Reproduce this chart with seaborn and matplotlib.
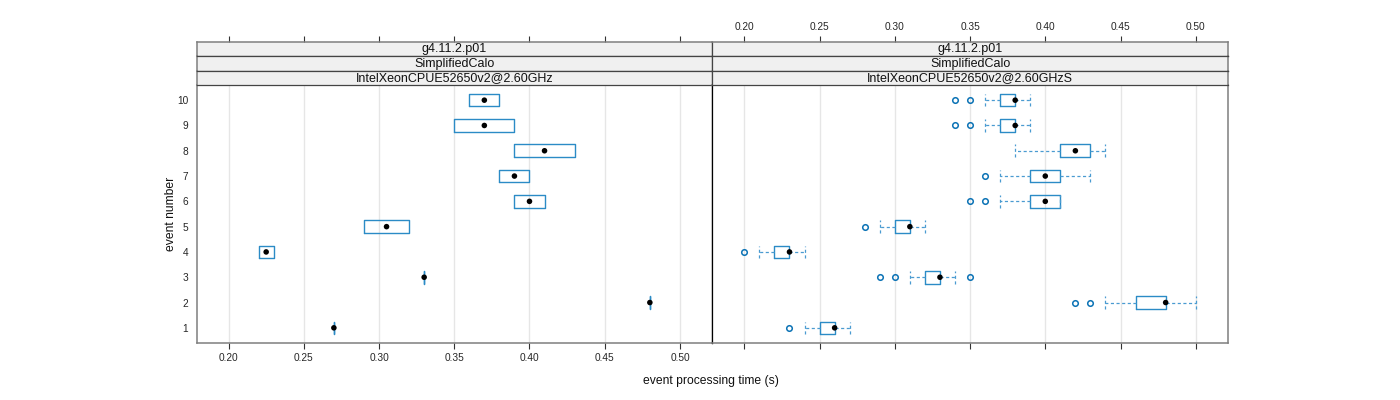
import numpy as np
import matplotlib.pyplot as plt
import seaborn as sns
import pandas as pd

# Data
events = list(range(1, 11))
strip_version = "g4.11.2.p01"
strip_app = "SimplifiedCalo"
panel_cpu = ["IntelXeonCPUE52650v2@2.60GHz", "IntelXeonCPUE52650v2@2.60GHzS"]
x_ticks = [0.20, 0.25, 0.30, 0.35, 0.40, 0.45, 0.50]

# left panel: two runs per event -> box spans both, median in between
left_q1 = [0.27, 0.48, 0.33, 0.22, 0.29, 0.39, 0.38, 0.39, 0.35, 0.36]
left_med = [0.27, 0.48, 0.33, 0.225, 0.305, 0.40, 0.39, 0.41, 0.37, 0.37]
left_q3 = [0.27, 0.48, 0.33, 0.23, 0.32, 0.41, 0.40, 0.43, 0.39, 0.38]

# right panel: full box-and-whisker stats
right_whislo = [0.24, 0.44, 0.31, 0.21, 0.29, 0.37, 0.37, 0.38, 0.36, 0.36]
right_q1 = [0.25, 0.46, 0.32, 0.22, 0.30, 0.39, 0.39, 0.41, 0.37, 0.37]
right_med = [0.26, 0.48, 0.33, 0.23, 0.31, 0.40, 0.40, 0.42, 0.38, 0.38]
right_q3 = [0.26, 0.48, 0.33, 0.23, 0.31, 0.41, 0.41, 0.43, 0.38, 0.38]
right_whishi = [0.27, 0.50, 0.34, 0.24, 0.32, 0.41, 0.43, 0.44, 0.39, 0.39]
right_fliers = [[0.23], [0.42, 0.43], [0.29, 0.30, 0.35], [0.20], [0.28],
                [0.35, 0.36], [0.36], [], [0.34, 0.35], [0.34, 0.35]]

BOX_COL = "#2b8bc6"
WHISK_COL = "#4a9bd1"
OUT_COL = "#0b72b5"
FRAME_COL = "#7f7f7f"
STRIP_BG = "#f0f0f0"

sns.set_theme(style="white")
plt.rcParams['font.family'] = ['Liberation Sans', 'DejaVu Sans']

fig = plt.figure(figsize=(14, 4), dpi=100)

W, H = 1400.0, 400.0
panel_x = [196.5, 712.3]
panel_w = 515.5
panel_top, panel_bot = 85.0, 343.0
strip_h = (panel_top - 42.0) / 3
xlim = (0.1787, 0.5213)


def fx(px):
    return px / W


def fy(py):
    return 1 - py / H


for i in range(2):
    ax = fig.add_axes([fx(panel_x[i]), fy(panel_bot), panel_w / W, (panel_bot - panel_top) / H])

    if i == 0:
        stats = [dict(med=m, q1=a, q3=b, whislo=a, whishi=b, fliers=[])
                 for a, m, b in zip(left_q1, left_med, left_q3)]
        medians = left_med
        showcaps = False
    else:
        stats = [dict(med=m, q1=a, q3=b, whislo=lo, whishi=hi, fliers=f)
                 for lo, a, m, b, hi, f in zip(right_whislo, right_q1, right_med,
                                               right_q3, right_whishi, right_fliers)]
        medians = right_med
        showcaps = True

    ax.bxp(stats, positions=events, widths=0.5, orientation='horizontal',
           showcaps=showcaps, capwidths=0.5, manage_ticks=False,
           boxprops=dict(color=BOX_COL, linewidth=1.0),
           whiskerprops=dict(color=WHISK_COL, linewidth=0.9, linestyle=(0, (2.5, 2))),
           capprops=dict(color=WHISK_COL, linewidth=0.9, linestyle=(0, (2.5, 2))),
           medianprops=dict(linewidth=0),
           flierprops=dict(marker='o', markerfacecolor='none', markeredgecolor=OUT_COL,
                           markersize=4, markeredgewidth=1.1, linestyle='none'))

    med_df = pd.DataFrame({"time": medians, "event": events})
    sns.scatterplot(data=med_df, x="time", y="event", ax=ax, color="black",
                    s=16, edgecolor="none", zorder=5, legend=False)

    ax.set_xlim(*xlim)
    ax.set_ylim(0.4, 10.6)
    ax.set_xticks(x_ticks)
    ax.set_yticks(events)
    ax.set_xlabel("")
    ax.set_ylabel("")
    ax.grid(axis='x', color='#e6e6e6', linewidth=1)
    ax.set_axisbelow(True)
    ax.tick_params(axis='x', bottom=True, length=4.5, width=0.8, color='#333333',
                   labelsize=7.3, pad=3, labelbottom=(i == 0))
    ax.tick_params(axis='y', left=False, length=0, labelsize=7.3, pad=6,
                   labelleft=(i == 0))
    if i == 0:
        ax.set_xticklabels([f"{t:.2f}" for t in x_ticks])
        ax.set_yticklabels([str(e) for e in events])
    for s in ax.spines.values():
        s.set_color(FRAME_COL)
        s.set_linewidth(1.1)
    if i == 0:
        ax.spines['right'].set_color('black')
        ax.spines['right'].set_linewidth(0.9)
    else:
        ax.spines['left'].set_color('black')
        ax.spines['left'].set_linewidth(0.9)

    # strips
    labels = [strip_version, strip_app, panel_cpu[i]]
    for k, lab in enumerate(labels):
        top = 42.0 + k * strip_h
        sax = fig.add_axes([fx(panel_x[i]), fy(top + strip_h), panel_w / W, strip_h / H])
        sax.set_facecolor(STRIP_BG)
        sax.set_xlim(*xlim)
        sax.set_ylim(0, 1)
        sax.set_yticks([])
        sax.text(0.5, 0.48, lab, transform=sax.transAxes, ha='center', va='center',
                 fontsize=9, color='#111111')
        for s in sax.spines.values():
            s.set_color('#444444')
            s.set_linewidth(0.9)
        if k == 0:
            sax.spines['top'].set_color(FRAME_COL)
            sax.spines['top'].set_linewidth(1.1)
            sax.set_xticks(x_ticks)
            sax.tick_params(axis='x', top=True, bottom=False, length=4.5, width=0.8,
                            color='#333333', labelsize=7.3, pad=3,
                            labeltop=(i == 1), labelbottom=False)
            if i == 1:
                sax.set_xticklabels([f"{t:.2f}" for t in x_ticks])
        else:
            sax.set_xticks([])
        if i == 0:
            sax.spines['left'].set_color(FRAME_COL)
            sax.spines['left'].set_linewidth(1.1)
        else:
            sax.spines['right'].set_color(FRAME_COL)
            sax.spines['right'].set_linewidth(1.1)

fig.text(fx(711), fy(381), "event processing time (s)", ha='center', va='center',
         fontsize=8.7, color='#111111')
fig.text(fx(171), fy(214), "event number", ha='center', va='center',
         rotation=90, fontsize=8.7, color='#111111')

fig.savefig("out.png", dpi=100)
